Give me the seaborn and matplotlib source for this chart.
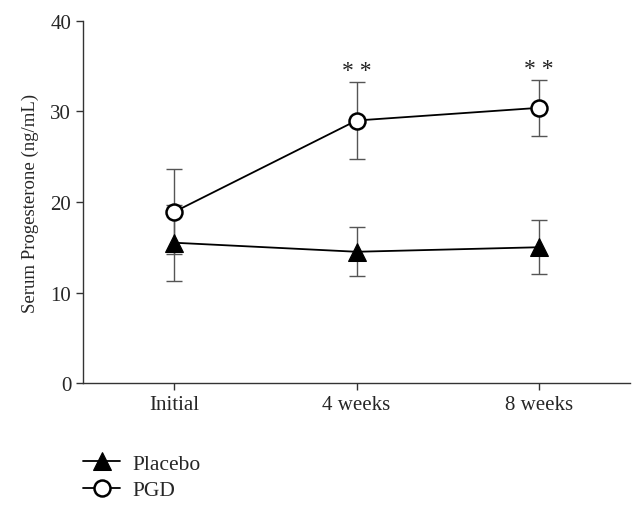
import pandas as pd
import numpy as np
import matplotlib
matplotlib.use("Agg")
import matplotlib.pyplot as plt
import seaborn as sns

# values
timepoints = ["Initial", "4 weeks", "8 weeks"]
placebo_mean = [15.5, 14.5, 15.0]
placebo_err = [4.2, 2.7, 3.0]
pgd_mean = [18.9, 29.0, 30.4]
pgd_err = [4.7, 4.3, 3.1]
stars = ["", "**", "**"]

df = pd.DataFrame({
    "x": list(range(len(timepoints))) * 2,
    "value": placebo_mean + pgd_mean,
    "group": ["Placebo"] * 3 + ["PGD"] * 3,
})

sns.set_style("ticks")
plt.rcParams["font.family"] = ["Liberation Serif", "DejaVu Serif"]

fig = plt.figure(figsize=(6.43, 5.10), dpi=100)
ax = fig.add_axes([0.129, 0.247, 0.851, 0.71])

pos = np.arange(len(timepoints))
ax.errorbar(pos, placebo_mean, yerr=placebo_err, fmt="none", ecolor="#555555",
            elinewidth=1.0, capsize=6, capthick=1.0, zorder=1)
ax.errorbar(pos, pgd_mean, yerr=pgd_err, fmt="none", ecolor="#555555",
            elinewidth=1.0, capsize=6, capthick=1.0, zorder=1)

sns.lineplot(data=df[df.group == "Placebo"], x="x", y="value", ax=ax,
             color="black", linewidth=1.3, marker="^", markersize=12.5,
             markerfacecolor="black", markeredgecolor="black", label="Placebo", zorder=3)
sns.lineplot(data=df[df.group == "PGD"], x="x", y="value", ax=ax,
             color="black", linewidth=1.3, marker="o", markersize=11.5,
             markerfacecolor="white", markeredgecolor="black", markeredgewidth=1.8,
             label="PGD", zorder=3)

for i, s in enumerate(stars):
    if s:
        ax.text(pos[i], pgd_mean[i] + pgd_err[i] + 0.1, "* *", ha="center", va="bottom",
                fontsize=17, color="#222222")

ax.set_xlim(-0.5, 2.5)
ax.set_ylim(0, 40)
ax.set_yticks([0, 10, 20, 30, 40])
ax.set_xticks(pos)
ax.set_xticklabels(timepoints)
ax.set_xlabel("")
ax.set_ylabel("Serum Progesterone (ng/mL)", fontsize=13.5, labelpad=8)
ax.tick_params(axis="both", labelsize=15, length=5, width=1, color="#333333")
for sp in ["top", "right"]:
    ax.spines[sp].set_visible(False)
for sp in ["left", "bottom"]:
    ax.spines[sp].set_linewidth(1.0)
    ax.spines[sp].set_color("#333333")

ax.get_legend().remove()
handles, labels = ax.get_legend_handles_labels()
fig.legend(handles, labels, loc="upper left", bbox_to_anchor=(0.113, 0.13),
           frameon=False, fontsize=15.5, handlelength=1.7, handletextpad=0.6,
           borderpad=0, labelspacing=0.3)

fig.savefig("out.png", dpi=100)
